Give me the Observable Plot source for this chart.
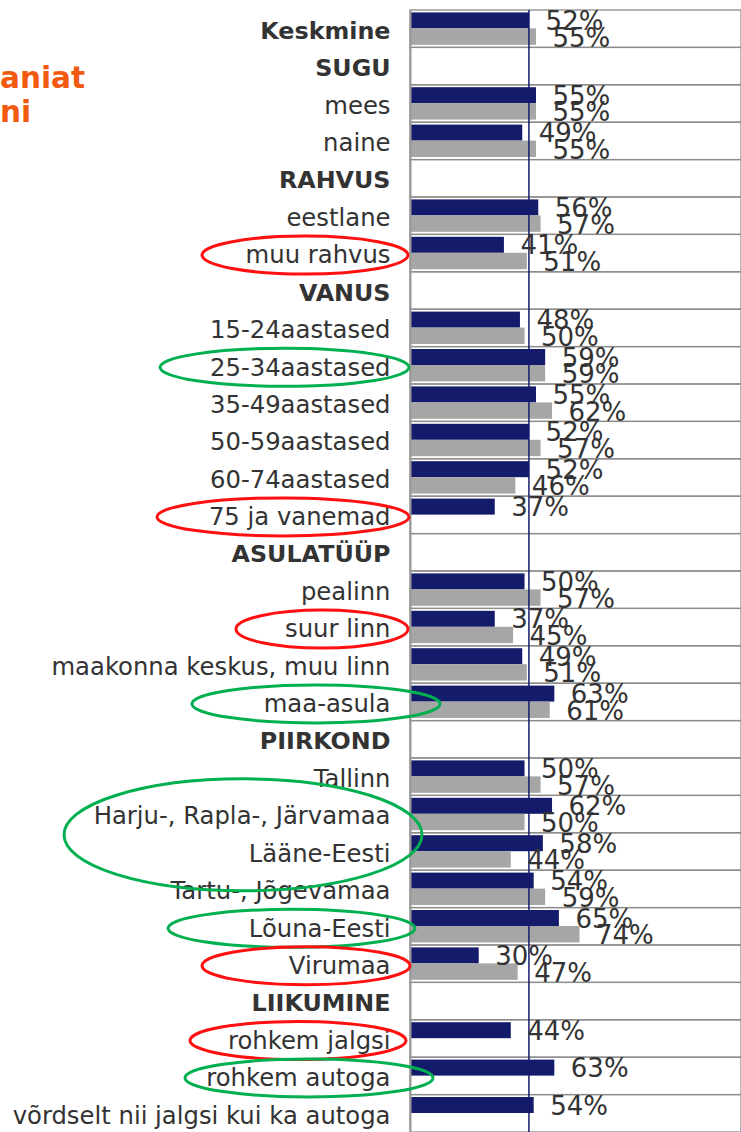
<!DOCTYPE html>
<html>
<head>
<meta charset="utf-8">
<script src="https://cdn.jsdelivr.net/npm/d3@7"></script>
<script src="https://cdn.jsdelivr.net/npm/@observablehq/plot@0.6"></script>
<style>
  html, body { margin: 0; padding: 0; background: #fff; }
  #wrap { position: relative; width: 741px; height: 1132px; overflow: hidden; }
  .ttl { position: absolute; font-family: "DejaVu Sans", Verdana, sans-serif; font-weight: bold; color: #F25A0F; font-size: 29.5px; line-height: 1; white-space: nowrap; }
  svg { display: block; }
</style>
</head>
<body>
<div id="wrap"></div>
<script>
// ---------- DATA ----------
const rows = [
  "Keskmine", "SUGU", "mees", "naine", "RAHVUS", "eestlane", "muu rahvus",
  "VANUS", "15-24aastased", "25-34aastased", "35-49aastased", "50-59aastased",
  "60-74aastased", "75 ja vanemad", "ASULATÜÜP", "pealinn", "suur linn",
  "maakonna keskus, muu linn", "maa-asula", "PIIRKOND", "Tallinn",
  "Harju-, Rapla-, Järvamaa", "Lääne-Eesti", "Tartu-, Jõgevamaa", "Lõuna-Eesti",
  "Virumaa", "LIIKUMINE", "rohkem jalgsi", "rohkem autoga",
  "võrdselt nii jalgsi kui ka autoga"
];
const headerRows = ["Keskmine", "SUGU", "RAHVUS", "VANUS", "ASULATÜÜP", "PIIRKOND", "LIIKUMINE"];
const seriesA = [52, null, 55, 49, null, 56, 41, null, 48, 59, 55, 52, 52, 37, null, 50, 37, 49, 63, null, 50, 62, 58, 54, 65, 30, null, 44, 63, 54];
const seriesB = [55, null, 55, 55, null, 57, 51, null, 50, 59, 62, 57, 46, null, null, 57, 45, 51, 61, null, 57, 50, 44, 59, 74, 47, null, null, null, null];
const averageLine = 51.7;
const titleFragments = ["aniat", "ni"];
const annotations = [
  { first: "muu rahvus", last: "muu rahvus", tone: "neg" },
  { first: "25-34aastased", last: "25-34aastased", tone: "pos" },
  { first: "75 ja vanemad", last: "75 ja vanemad", tone: "neg" },
  { first: "suur linn", last: "suur linn", tone: "neg" },
  { first: "maa-asula", last: "maa-asula", tone: "pos" },
  { first: "Harju-, Rapla-, Järvamaa", last: "Lääne-Eesti", tone: "pos" },
  { first: "Lõuna-Eesti", last: "Lõuna-Eesti", tone: "pos" },
  { first: "Virumaa", last: "Virumaa", tone: "neg" },
  { first: "rohkem jalgsi", last: "rohkem jalgsi", tone: "neg" },
  { first: "rohkem autoga", last: "rohkem autoga", tone: "pos" }
];

// ---------- DRAWING ----------
const NAVY = "#151B6B", GRAY = "#A6A6A6", TXT = "#333333";
const toneColor = { neg: "#FF1010", pos: "#00B050" };
// horizontal extents of annotation ellipses, in px relative to x(0)
const ellipseBox = {
  "muu rahvus": [-208, -2], "25-34aastased": [-250, -1], "75 ja vanemad": [-253, -1],
  "suur linn": [-174, -2], "maa-asula": [-218, 30], "Harju-, Rapla-, Järvamaa": [-346, 12],
  "Lõuna-Eesti": [-242, 5], "Virumaa": [-208, 0], "rohkem jalgsi": [-220, -4], "rohkem autoga": [-225, 23]
};

const A = rows.map((label, i) => ({ label, value: seriesA[i] })).filter(d => d.value != null);
const B = rows.map((label, i) => ({ label, value: seriesB[i] })).filter(d => d.value != null);
const headers = rows.filter(r => headerRows.includes(r));
const normal = rows.filter(r => !headerRows.includes(r));

const W = 741, H = 1132, mTop = 10;
const FONT = "DejaVu Sans, Verdana, sans-serif";

const chart = Plot.plot({
  width: W, height: H,
  marginLeft: 410, marginRight: 0, marginTop: mTop, marginBottom: 0,
  style: { fontFamily: FONT, background: "#fff", overflow: "visible" },
  x: { domain: [0, 144.5], axis: null },
  y: { domain: rows, padding: 0, round: false, axis: null },
  marks: [
    Plot.barX(rows, { y: d => d, x1: 0, x2: 144.5, fill: "none", stroke: "#8C8C8C", strokeWidth: 1.3 }),
    Plot.barX(A, { y: "label", x: "value", fill: NAVY, insetTop: 2.4, insetBottom: 19 }),
    Plot.barX(B, { y: "label", x: "value", fill: GRAY, insetTop: 18.4, insetBottom: 2.6 }),
    Plot.ruleX([0], { stroke: "#999", strokeWidth: 2 }),
    Plot.ruleX([averageLine], { stroke: NAVY, strokeWidth: 1.5 }),
    Plot.text(A, { y: "label", x: "value", text: d => d.value + "%", dx: 16, dy: -7.5, textAnchor: "start", fontSize: 26, fill: TXT }),
    Plot.text(B, { y: "label", x: "value", text: d => d.value + "%", dx: 16, dy: 9, textAnchor: "start", fontSize: 26, fill: TXT }),
    Plot.text(normal, { y: d => d, x: 0, text: d => d, dx: -20, dy: 2, textAnchor: "end", fontSize: 24.3, fill: TXT }),
    Plot.text(headers, { y: d => d, x: 0, text: d => d, dx: -20, dy: 2, textAnchor: "end", fontSize: 23.8, fontWeight: "bold", fill: TXT })
  ]
});

const wrap = document.getElementById("wrap");
wrap.appendChild(chart);

// annotation ellipses positioned through the chart's scales
const xs = chart.scale("x"), ys = chart.scale("y");
const x0 = xs.apply(0), band = ys.bandwidth;
const g = d3.select(chart).append("g");
for (const a of annotations) {
  const top = ys.apply(a.first), bottom = ys.apply(a.last) + band;
  const [l, r] = ellipseBox[a.first];
  const single = a.first === a.last;
  g.append("ellipse")
    .attr("cx", x0 + (l + r) / 2)
    .attr("cy", (top + bottom) / 2 + 2)
    .attr("rx", (r - l) / 2)
    .attr("ry", single ? 19 : 56)
    .attr("fill", "none")
    .attr("stroke", toneColor[a.tone])
    .attr("stroke-width", 3);
}

// cut-off title fragments at the left
titleFragments.forEach((t, i) => {
  const d = document.createElement("div");
  d.className = "ttl";
  d.textContent = t;
  d.style.left = "0px";
  d.style.top = (64 + i * 34) + "px";
  wrap.appendChild(d);
});
</script>
</body>
</html>
